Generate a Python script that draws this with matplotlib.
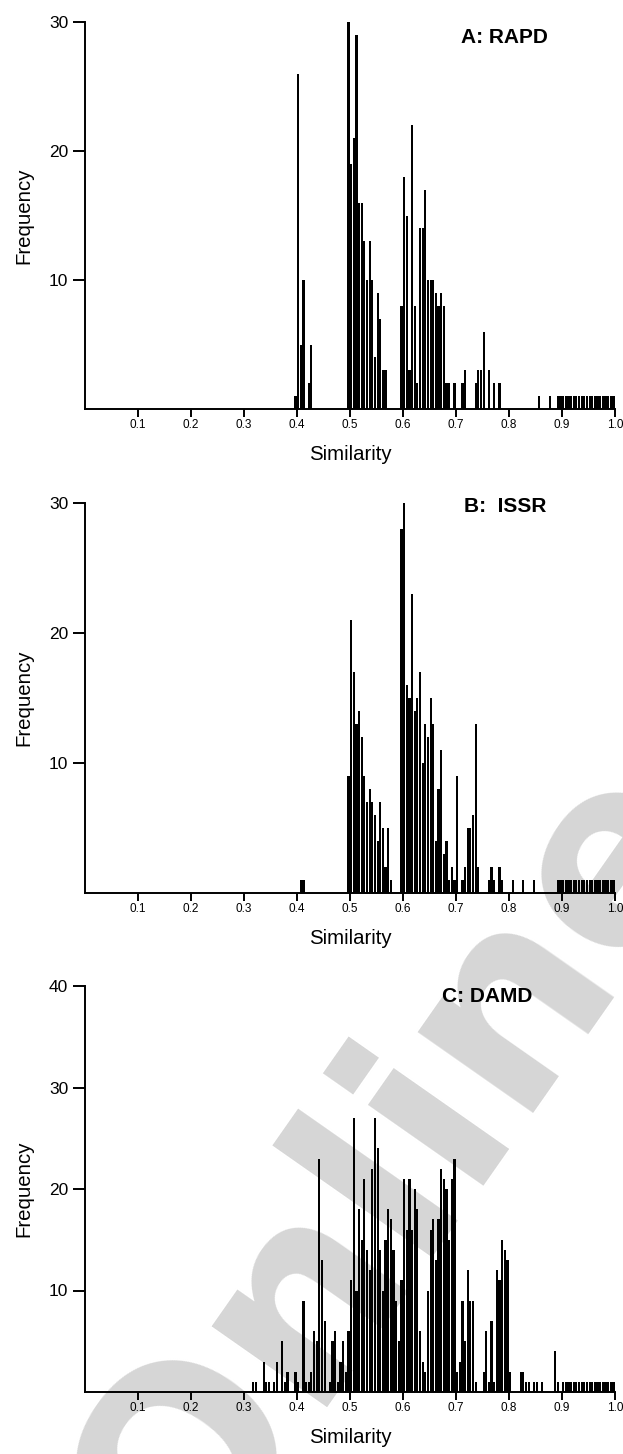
import matplotlib
matplotlib.use("Agg")
import matplotlib.pyplot as plt

plt.rcParams["font.family"] = ["Liberation Sans Narrow", "Liberation Sans", "DejaVu Sans"]

# bin left edges (similarity) and frequencies, bin width 0.005
a_sim = [0.395, 0.400, 0.405, 0.410, 0.420, 0.425,
         0.495, 0.500, 0.505, 0.510, 0.515, 0.520, 0.525, 0.530, 0.535, 0.540,
         0.545, 0.550, 0.555, 0.560, 0.565,
         0.595, 0.600, 0.605, 0.610, 0.615, 0.620, 0.625, 0.630, 0.635, 0.640,
         0.645, 0.650, 0.655, 0.660, 0.665, 0.670, 0.675,
         0.680, 0.685, 0.695, 0.710, 0.715, 0.735, 0.740, 0.745, 0.750, 0.760,
         0.770, 0.780, 0.855, 0.875,
         0.890, 0.895, 0.900, 0.905, 0.910, 0.915, 0.920, 0.925, 0.930, 0.935, 0.940,
         0.945, 0.950, 0.955, 0.960, 0.965, 0.970, 0.975, 0.980, 0.985, 0.990, 0.995]
a_freq = [1, 26, 5, 10, 2, 5,
          30, 19, 21, 29, 16, 16, 13, 10, 13, 10,
          4, 9, 7, 3, 3,
          8, 18, 15, 3, 22, 8, 2, 14, 14, 17,
          10, 10, 10, 9, 8, 9, 8,
          2, 2, 2, 2, 3, 2, 3, 3, 6, 3,
          2, 2, 1, 1,
          1, 1, 1, 1, 1, 1, 1, 1, 1, 1, 1,
          1, 1, 1, 1, 1, 1, 1, 1, 1, 1, 1]

b_sim = [0.405, 0.410,
         0.495, 0.500, 0.505, 0.510, 0.515, 0.520, 0.525, 0.530, 0.535, 0.540,
         0.545, 0.550, 0.555, 0.560, 0.565, 0.570, 0.575,
         0.595, 0.600, 0.605, 0.610, 0.615, 0.620, 0.625, 0.630, 0.635, 0.640,
         0.645, 0.650, 0.655, 0.660, 0.665, 0.670, 0.675, 0.680, 0.685, 0.690,
         0.695, 0.700, 0.710, 0.715, 0.720, 0.725, 0.730, 0.735, 0.740,
         0.760, 0.765, 0.770, 0.780, 0.785, 0.805, 0.825, 0.845,
         0.890, 0.895, 0.900, 0.905, 0.910, 0.915, 0.920, 0.925, 0.930, 0.935, 0.940,
         0.945, 0.950, 0.955, 0.960, 0.965, 0.970, 0.975, 0.980, 0.985, 0.990, 0.995]
b_freq = [1, 1,
          9, 21, 17, 13, 14, 12, 9, 7, 8, 7,
          6, 4, 7, 5, 2, 5, 1,
          28, 30, 16, 15, 23, 14, 15, 17, 10, 13,
          12, 15, 13, 4, 8, 11, 3, 4, 1, 2,
          1, 9, 1, 2, 5, 5, 6, 13, 2,
          1, 2, 1, 2, 1, 1, 1, 1,
          1, 1, 1, 1, 1, 1, 1, 1, 1, 1, 1,
          1, 1, 1, 1, 1, 1, 1, 1, 1, 1, 1]

c_sim = [0.315, 0.320, 0.335, 0.340, 0.345, 0.355, 0.360, 0.370, 0.375, 0.380,
         0.395, 0.400, 0.410, 0.415, 0.420, 0.425, 0.430, 0.435, 0.440, 0.445,
         0.450, 0.460, 0.465, 0.470, 0.475, 0.480, 0.485, 0.490,
         0.495, 0.500, 0.505, 0.510, 0.515, 0.520, 0.525, 0.530, 0.535, 0.540,
         0.545, 0.550, 0.555, 0.560, 0.565, 0.570, 0.575, 0.580, 0.585, 0.590,
         0.595, 0.600, 0.605, 0.610, 0.615, 0.620, 0.625, 0.630, 0.635, 0.640,
         0.645, 0.650, 0.655, 0.660, 0.665, 0.670, 0.675, 0.680, 0.685, 0.690,
         0.695, 0.700, 0.705, 0.710, 0.715, 0.720, 0.725, 0.730, 0.735,
         0.750, 0.755, 0.760, 0.765, 0.770, 0.775, 0.780, 0.785, 0.790, 0.795, 0.800,
         0.820, 0.825, 0.830, 0.835, 0.845, 0.850, 0.860, 0.885, 0.890,
         0.900, 0.905, 0.910, 0.915, 0.920, 0.925, 0.930, 0.935, 0.940,
         0.945, 0.950, 0.955, 0.960, 0.965, 0.970, 0.975, 0.980, 0.985, 0.990, 0.995]
c_freq = [1, 1, 3, 1, 1, 1, 3, 5, 1, 2,
          2, 1, 9, 1, 1, 2, 6, 5, 23, 13,
          7, 1, 5, 6, 1, 3, 5, 2,
          6, 11, 27, 10, 18, 15, 21, 14, 12, 22,
          27, 24, 14, 10, 15, 18, 17, 14, 9, 5,
          11, 21, 16, 21, 16, 20, 18, 6, 3, 2,
          10, 16, 17, 13, 17, 22, 21, 20, 15, 21,
          23, 2, 3, 9, 5, 12, 9, 9, 1,
          2, 6, 1, 7, 1, 12, 11, 15, 14, 13, 2,
          2, 2, 1, 1, 1, 1, 1, 4, 1,
          1, 1, 1, 1, 1, 1, 1, 1, 1,
          1, 1, 1, 1, 1, 1, 1, 1, 1, 1, 1]

panels = [
    ("A: RAPD", a_sim, a_freq, [10, 20, 30], 30, (0.792, 0.961)),
    ("B:  ISSR", b_sim, b_freq, [10, 20, 30], 30, (0.792, 0.992)),
    ("C: DAMD", c_sim, c_freq, [10, 20, 30, 40], 40, (0.758, 0.973)),
]
# axes boxes in pixels (top, bottom) of a 623x1454 figure
boxes = [(22, 409), (503, 893), (986, 1392)]
xticks = [0.1, 0.2, 0.3, 0.4, 0.5, 0.6, 0.7, 0.8, 0.9, 1.0]

W, H = 623, 1454
fig = plt.figure(figsize=(W / 100, H / 100), dpi=100)

# faint watermark behind the panels
fig.text(0.634, 0.196, "Online", rotation=55, fontsize=185, fontweight="bold",
         color="#d6d6d6", ha="center", va="center", zorder=-1,
         family="DejaVu Sans")

for (label, sim, freq, yt, ymax, lpos), (top, bot) in zip(panels, boxes):
    ax = fig.add_axes([85 / W, 1 - bot / H, 530 / W, (bot - top) / H])
    ax.set_facecolor("none")
    ax.bar(sim, freq, width=0.0042, align="edge", color="black", linewidth=0)
    ax.set_xlim(0, 1.0)
    ax.set_ylim(0, ymax)
    for s in ["top", "right"]:
        ax.spines[s].set_visible(False)
    for s in ["left", "bottom"]:
        ax.spines[s].set_linewidth(1.4)
    ax.set_xticks(xticks)
    ax.set_xticklabels([f"{t:.1f}" for t in xticks], fontsize=8.5)
    ax.set_yticks(yt)
    ax.set_yticklabels([str(t) for t in yt], fontsize=12.5)
    ax.tick_params(axis="y", direction="out", length=9, width=1.4, pad=3)
    ax.tick_params(axis="x", direction="out", length=5.5, width=1.4, pad=1.5)
    ax.set_xlabel("Similarity", fontsize=14.7)
    ax.set_ylabel("Frequency", fontsize=14.7)
    ax.xaxis.set_label_coords(0.5, -36 / (bot - top))
    ax.yaxis.set_label_coords(-0.098, 0.5)
    ax.text(lpos[0], lpos[1], label, transform=ax.transAxes, fontsize=15,
            fontweight="bold", ha="center", va="center")

fig.savefig("out.png", dpi=100)
